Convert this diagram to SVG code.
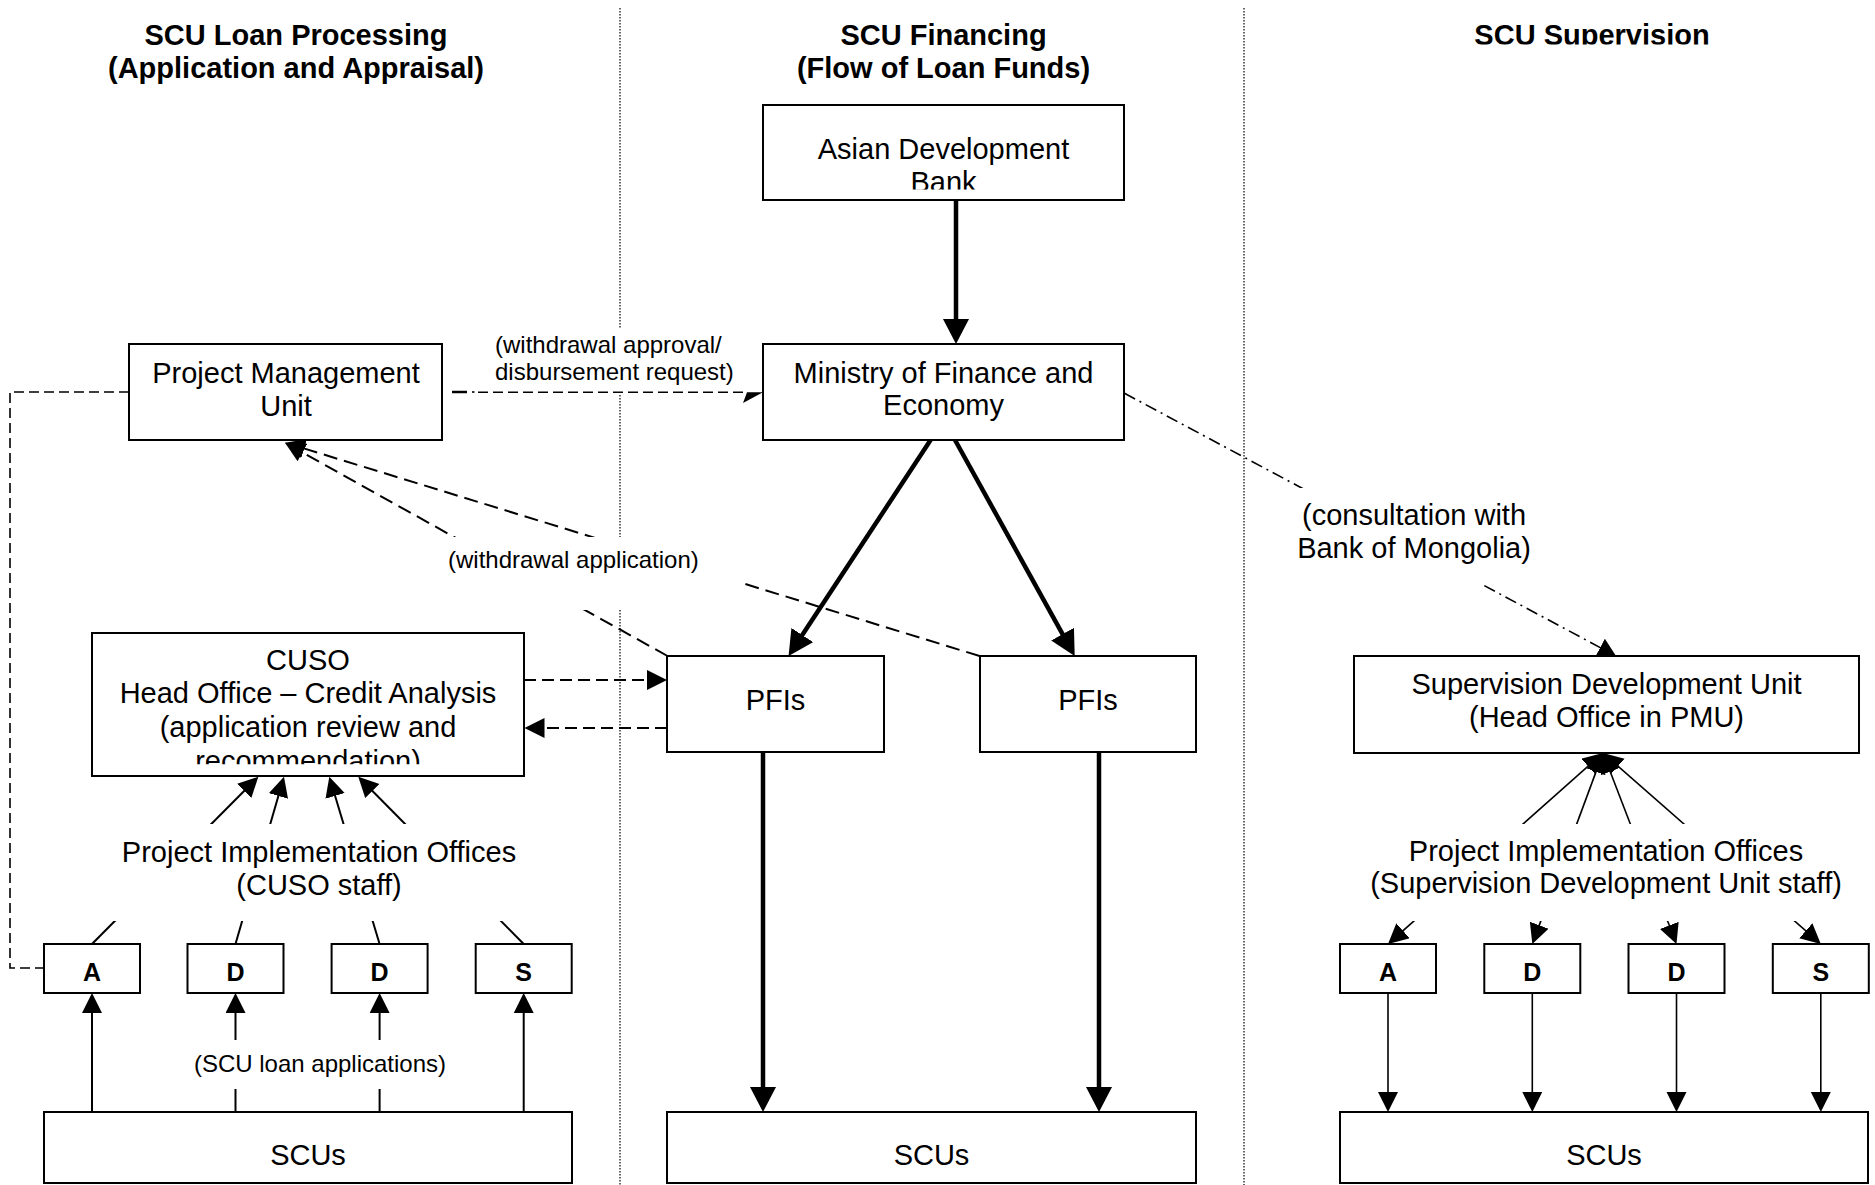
<svg xmlns="http://www.w3.org/2000/svg" width="1875" height="1185" viewBox="0 0 1875 1185">
<style>
text{font-family:"Liberation Sans",Arial,sans-serif;fill:#000}
.t{font-size:29px;text-anchor:middle}
.h{font-size:29px;font-weight:bold;text-anchor:middle}
.l{font-size:24px}
.b{font-size:25px;font-weight:bold;text-anchor:middle}
.box{fill:#fff;stroke:#000;stroke-width:2}
.bg{fill:#fff;stroke:none}
.div{stroke:#333;stroke-width:1.5;stroke-dasharray:1.5 1.5;fill:none}
.thick{stroke:#000;stroke-width:4.5;fill:none}
.thin{stroke:#000;stroke-width:2;fill:none}
.thin15{stroke:#000;stroke-width:1.6;fill:none}
.dash{stroke:#000;stroke-width:2;stroke-dasharray:14 7;fill:none}
.dash2{stroke:#000;stroke-width:2;stroke-dasharray:12 6;fill:none}
.dash3{stroke:#000;stroke-width:1.6;stroke-dasharray:10 5;fill:none}
.dd{stroke:#000;stroke-width:1.6;stroke-dasharray:12 5 2 5;fill:none}
</style>
<defs>
<marker id="ahT" markerUnits="userSpaceOnUse" markerWidth="26" markerHeight="26" refX="12" refY="13" orient="auto"><path d="M0,0 L25,13 L0,26 z" fill="#000"/></marker>
<marker id="ah" markerUnits="userSpaceOnUse" markerWidth="21" markerHeight="21" refX="10" refY="10" orient="auto"><path d="M0,0 L20,10 L0,20 z" fill="#000"/></marker>
<marker id="ahS" markerUnits="userSpaceOnUse" markerWidth="21" markerHeight="21" refX="10" refY="10" orient="auto-start-reverse"><path d="M0,0 L20,10 L0,20 z" fill="#000"/></marker>
<marker id="ahD" markerUnits="userSpaceOnUse" markerWidth="19" markerHeight="21" refX="9" refY="10" orient="auto"><path d="M0,0 L18,10 L0,20 z" fill="#000"/></marker>
<clipPath id="clipSup"><rect x="1400" y="0" width="400" height="44.5"/></clipPath>
<clipPath id="clipADB"><rect x="764" y="106" width="359" height="83.5"/></clipPath>
<clipPath id="clipCUSO"><rect x="93" y="634" width="430" height="130.3"/></clipPath>
</defs>

<g id="titles">
<text class="h" x="296" y="45">SCU Loan Processing</text>
<text class="h" x="296" y="78">(Application and Appraisal)</text>
<text class="h" x="943.5" y="45">SCU Financing</text>
<text class="h" x="943.5" y="78">(Flow of Loan Funds)</text>
<text class="h" x="1592" y="45" clip-path="url(#clipSup)">SCU Supervision</text>
</g>

<g id="dividers">
<line class="div" x1="620" y1="8" x2="620" y2="329"/>
<line class="div" x1="620" y1="395" x2="620" y2="537"/>
<line class="div" x1="620" y1="610" x2="620" y2="1185"/>
<line class="div" x1="1244" y1="8" x2="1244" y2="1185"/>
</g>

<g id="label-approval">
<rect class="bg" x="488" y="329" width="257" height="66"/>
<text class="l" x="495" y="353">(withdrawal approval/</text>
<text class="l" x="495" y="380">disbursement request)</text>
</g>

<g id="connectors">
<line class="thick" x1="956" y1="200" x2="956" y2="331" marker-end="url(#ahT)"/>
<line class="thick" x1="930.6" y1="440" x2="795.7" y2="645.1" marker-end="url(#ahT)"/>
<line class="thick" x1="955" y1="440" x2="1068.4" y2="644.6" marker-end="url(#ahT)"/>
<line class="thick" x1="763" y1="752" x2="763" y2="1099" marker-end="url(#ahT)"/>
<line class="thick" x1="1099" y1="752" x2="1099" y2="1099" marker-end="url(#ahT)"/>

<line class="thin" x1="92" y1="1112" x2="92" y2="1003" marker-end="url(#ah)"/>
<line class="thin" x1="235.5" y1="1112" x2="235.5" y2="1003" marker-end="url(#ah)"/>
<line class="thin" x1="379.6" y1="1112" x2="379.6" y2="1003" marker-end="url(#ah)"/>
<line class="thin" x1="523.7" y1="1112" x2="523.7" y2="1003" marker-end="url(#ah)"/>

<line class="thin" x1="92" y1="944" x2="251.3" y2="783.8" marker-end="url(#ah)"/>
<line class="thin" x1="235.5" y1="944" x2="281.2" y2="786.3" marker-end="url(#ah)"/>
<line class="thin" x1="379.6" y1="944" x2="332.2" y2="786.3" marker-end="url(#ah)"/>
<line class="thin" x1="523.7" y1="944" x2="365.3" y2="783.8" marker-end="url(#ah)"/>

<line class="thin15" x1="1595.5" y1="759.6" x2="1395.5" y2="937.4" marker-start="url(#ahS)" marker-end="url(#ahS)"/>
<line class="thin15" x1="1599.5" y1="762.4" x2="1535.8" y2="934.6" marker-start="url(#ahS)" marker-end="url(#ahS)"/>
<line class="thin15" x1="1606.6" y1="762.3" x2="1672.9" y2="934.7" marker-start="url(#ahS)" marker-end="url(#ahS)"/>
<line class="thin15" x1="1610.5" y1="759.6" x2="1813.3" y2="937.4" marker-start="url(#ahS)" marker-end="url(#ahS)"/>

<line class="thin15" x1="1388" y1="993" x2="1388" y2="1102" marker-end="url(#ah)"/>
<line class="thin15" x1="1532.3" y1="993" x2="1532.3" y2="1102" marker-end="url(#ah)"/>
<line class="thin15" x1="1676.5" y1="993" x2="1676.5" y2="1102" marker-end="url(#ah)"/>
<line class="thin15" x1="1820.8" y1="993" x2="1820.8" y2="1102" marker-end="url(#ah)"/>

<path class="dash3" d="M129,392 H10 V968 H44"/>

<line x1="452" y1="392" x2="467" y2="392" stroke="#000" stroke-width="2.5"/>
<line x1="472" y1="392" x2="474.5" y2="392" stroke="#000" stroke-width="1.6"/>
<line class="dash3" x1="478" y1="392.3" x2="748" y2="392.3"/>
<polygon points="743,403 763,392.3 747,392.3" fill="#000"/>

<line class="dash" x1="979.6" y1="656" x2="294.6" y2="445.6" marker-end="url(#ah)"/>
<line class="dash" x1="667.5" y1="656" x2="293.7" y2="447.6" marker-end="url(#ah)"/>

<line class="dash2" x1="524" y1="680" x2="657" y2="680" marker-end="url(#ah)"/>
<line class="dash2" x1="667" y1="728" x2="534.5" y2="728" marker-end="url(#ah)"/>

<line class="dd" x1="1124.5" y1="393.3" x2="1608.1" y2="651.8" marker-end="url(#ahD)"/>
</g>

<g id="label-withdrawal">
<rect class="bg" x="440" y="537" width="300" height="73"/>
<text class="l" x="448" y="568.3">(withdrawal application)</text>
</g>
<g id="label-consultation">
<rect class="bg" x="1290" y="488" width="250" height="97"/>
<text class="t" x="1414" y="525">(consultation with</text>
<text class="t" x="1414" y="558.3">Bank of Mongolia)</text>
</g>
<g id="label-pio-left">
<rect class="bg" x="105" y="824" width="425" height="97"/>
<text class="t" x="319" y="862">Project Implementation Offices</text>
<text class="t" x="319" y="895">(CUSO staff)</text>
</g>
<g id="label-pio-right">
<rect class="bg" x="1360" y="824" width="490" height="97"/>
<text class="t" x="1606" y="861">Project Implementation Offices</text>
<text class="t" x="1606" y="893">(Supervision Development Unit staff)</text>
</g>
<g id="label-scu-apps">
<rect class="bg" x="185" y="1040" width="270" height="49"/>
<text class="l" x="320" y="1071.7" text-anchor="middle">(SCU loan applications)</text>
</g>

<g id="node-adb">
<rect class="box" x="763" y="105" width="361" height="95"/>
<g clip-path="url(#clipADB)">
<text class="t" x="943.5" y="159">Asian Development</text>
<text class="t" x="943.5" y="192">Bank</text>
</g>
</g>
<g id="node-mofe">
<rect class="box" x="763" y="344" width="361" height="96"/>
<text class="t" x="943.5" y="383">Ministry of Finance and</text>
<text class="t" x="943.5" y="415">Economy</text>
</g>
<g id="node-pmu">
<rect class="box" x="129" y="344" width="313" height="96"/>
<text class="t" x="286" y="383.3">Project Management</text>
<text class="t" x="286" y="416">Unit</text>
</g>
<g id="node-cuso">
<rect class="box" x="92" y="633" width="432" height="143"/>
<g clip-path="url(#clipCUSO)">
<text class="t" x="308" y="670">CUSO</text>
<text class="t" x="308" y="703.3">Head Office – Credit Analysis</text>
<text class="t" x="308" y="737.3">(application review and</text>
<text class="t" x="308" y="770.8">recommendation)</text>
</g>
</g>
<g id="node-pfis-1">
<rect class="box" x="667" y="656" width="217" height="96"/>
<text class="t" x="775.5" y="710">PFIs</text>
</g>
<g id="node-pfis-2">
<rect class="box" x="980" y="656" width="216" height="96"/>
<text class="t" x="1088" y="710">PFIs</text>
</g>
<g id="node-sdu">
<rect class="box" x="1354" y="656" width="505" height="97"/>
<text class="t" x="1606.5" y="694">Supervision Development Unit</text>
<text class="t" x="1606.5" y="727.3">(Head Office in PMU)</text>
</g>

<g id="node-l-a"><rect class="box" x="44" y="944" width="96" height="49"/><text class="b" x="92" y="981">A</text></g>
<g id="node-l-d1"><rect class="box" x="187.5" y="944" width="96" height="49"/><text class="b" x="235.5" y="981">D</text></g>
<g id="node-l-d2"><rect class="box" x="331.6" y="944" width="96" height="49"/><text class="b" x="379.6" y="981">D</text></g>
<g id="node-l-s"><rect class="box" x="475.7" y="944" width="96" height="49"/><text class="b" x="523.7" y="981">S</text></g>

<g id="node-r-a"><rect class="box" x="1340" y="944" width="96" height="49"/><text class="b" x="1388" y="981">A</text></g>
<g id="node-r-d1"><rect class="box" x="1484.3" y="944" width="96" height="49"/><text class="b" x="1532.3" y="981">D</text></g>
<g id="node-r-d2"><rect class="box" x="1628.5" y="944" width="96" height="49"/><text class="b" x="1676.5" y="981">D</text></g>
<g id="node-r-s"><rect class="box" x="1772.8" y="944" width="96" height="49"/><text class="b" x="1820.8" y="981">S</text></g>

<g id="node-scus-1"><rect class="box" x="44" y="1112" width="528" height="71"/><text class="t" x="308" y="1165">SCUs</text></g>
<g id="node-scus-2"><rect class="box" x="667" y="1112" width="529" height="71"/><text class="t" x="931.5" y="1165">SCUs</text></g>
<g id="node-scus-3"><rect class="box" x="1340" y="1112" width="528" height="71"/><text class="t" x="1604" y="1165">SCUs</text></g>
</svg>
